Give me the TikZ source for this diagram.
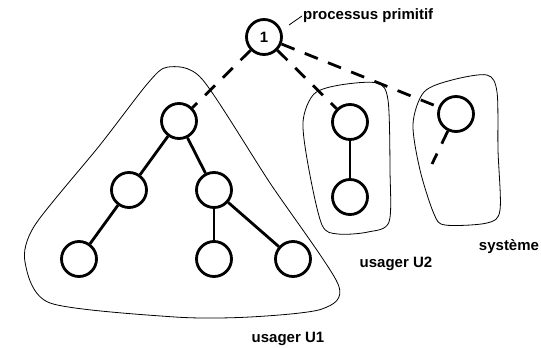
\documentclass[tikz,border=0pt]{standalone}
\usepackage{fontspec}
\setmainfont{Liberation Sans}
\usetikzlibrary{positioning}

\begin{document}
\begin{tikzpicture}[
    x=1pt, y=-1pt,
    proc/.style={circle, draw, line width=2.8pt, minimum size=35pt, inner sep=0pt, font=\bfseries\fontsize{15}{17}\selectfont},
    tie/.style={line width=2.8pt},
    dtie/.style={line width=2.8pt, dash pattern=on 14pt off 11pt},
    blob/.style={draw, line width=0.8pt},
    lbl/.style={font=\bfseries\fontsize{15}{17}\selectfont}
]
\useasboundingbox (0,0) rectangle (541,348);

% process tree
\node[proc] (prim) at (264,37) {1};
\node[proc] (u1r) at (179,121) {};
\node[proc] (u1l) at (129,190) {};
\node[proc] (u1m) at (214,190) {};
\node[proc] (u1ll) at (79,259) {};
\node[proc] (u1mb) at (214,259) {};
\node[proc] (u1mr) at (293,259) {};
\node[proc] (u2t) at (350,122) {};
\node[proc] (u2b) at (350,197) {};
\node[proc] (sys) at (456,114) {};
\coordinate (sysend) at (432,164);

\draw[tie] (u1r) -- (u1l);
\draw[tie] (u1r) -- (u1m);
\draw[tie] (u1l) -- (u1ll);
\draw[tie] (u1m) -- (u1mb);
\draw[tie] (u1m) -- (u1mr);
\draw[tie] (u2t) -- (u2b);

\draw[dtie] (prim) -- (u1r);
\draw[dtie] (prim) -- (u2t);
\draw[dtie] (prim) -- (sys);
\draw[dtie] (sys) -- (sysend);

% users' groups
\draw[blob] plot[smooth cycle, tension=0.45] coordinates {(168,67) (202,79) (270,183) (338,284) (322,309) (250,317) (175,317) (50,303) (25,262) (35,225) (100,145) (148,83)};
\draw[blob] plot[smooth cycle, tension=0.5] coordinates {(303,122) (314,94) (340,85) (377,83) (388,100) (390,170) (389,222) (368,232) (338,234) (322,225) (309,170)};
\draw[blob] plot[smooth cycle, tension=0.5] coordinates {(413,124) (424,92) (452,80) (487,75) (497,92) (498,150) (500,210) (487,223) (445,225) (434,214) (420,170)};

% labels
\node[lbl, anchor=west, inner sep=1pt] (title) at (302,16) {processus primitif};
\coordinate (tick) at (289,25);
\draw[line width=0.8pt] (title.west) -- (tick);
\node[lbl] (name1) at (288,339) {usager U1};
\node[lbl] (name2) at (396,264) {usager U2};
\node[lbl] (name3) at (509,247) {système};

\end{tikzpicture}
\end{document}
